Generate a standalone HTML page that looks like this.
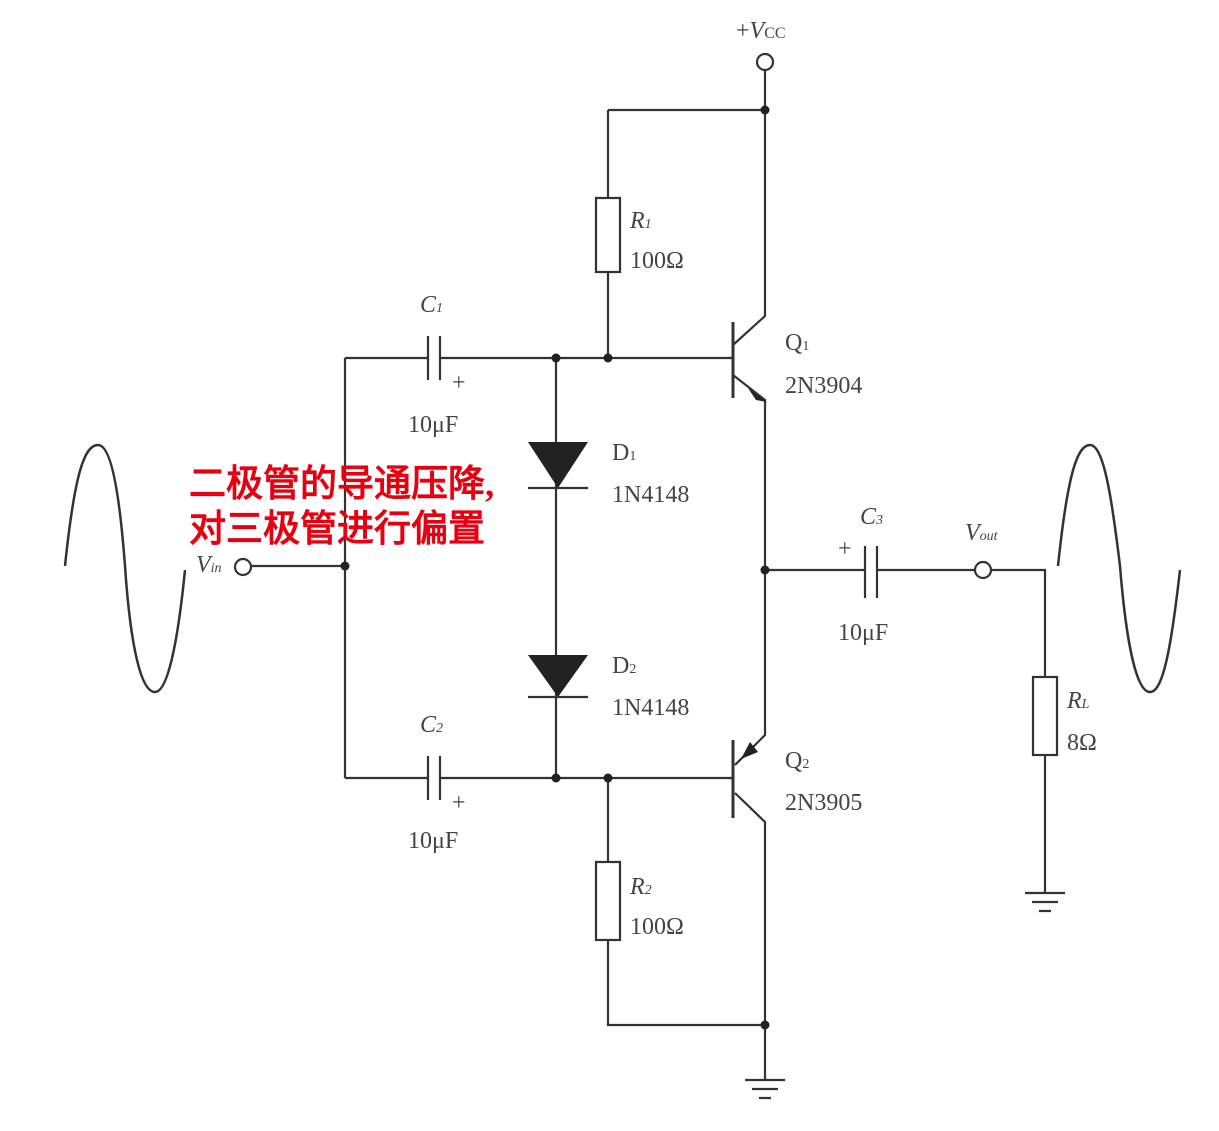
<!DOCTYPE html>
<html><head><meta charset="utf-8"><style>
body{margin:0;background:#fff}
svg text{font-family:"Liberation Serif",serif;fill:#444}
</style></head><body>
<svg width="1219" height="1126" viewBox="0 0 1219 1126" xmlns="http://www.w3.org/2000/svg">
<g stroke="#333" stroke-width="2.2" fill="none">
<circle cx="765" cy="62" r="8"/>
<path d="M765 70V316L733 345"/>
<path d="M608 110H765"/>
<path d="M608 110V198M608 272V358"/>
<rect x="596" y="198" width="24" height="74"/>
<path d="M345 358H428M440 358H733"/>
<path d="M428 336V380M440 336V380"/>
<path d="M733 322V398" stroke-width="3"/>
<path d="M733 375L765 400V735L735 765"/>
<path d="M345 358V778"/>
<circle cx="243" cy="567" r="8"/>
<path d="M251 566H345"/>
<path d="M556 358V778"/>
<path d="M528 488H588M528 697H588"/>
<path d="M345 778H428M440 778H733"/>
<path d="M428 756V800M440 756V800"/>
<path d="M733 740V818" stroke-width="3"/>
<path d="M735 793L765 822V1080"/>
<path d="M608 778V862M608 940V1025H765"/>
<rect x="596" y="862" width="24" height="78"/>
<path d="M765 570H865M877 570H975"/>
<path d="M865 546V598M877 546V598"/>
<circle cx="983" cy="570" r="8"/>
<path d="M991 570H1045V677M1045 755V893"/>
<rect x="1033" y="677" width="24" height="78"/>
<path d="M1025 893H1065M1032 902H1058M1039 911H1051"/>
<path d="M745 1080H785M752 1089H778M759 1098H771"/>
<path d="M65 566C75 470 85 445 98 445C112 445 120 500 125 566C130 640 140 692 155 692C168 692 178 640 185 570" stroke-width="2.5"/>
<path d="M1058 566C1068 470 1078 445 1090 445C1104 445 1112 500 1120 566C1126 640 1136 692 1150 692C1164 692 1172 640 1180 570" stroke-width="2.5"/>
</g>
<g fill="#222">
<circle cx="765" cy="110" r="4.5"/><circle cx="556" cy="358" r="4.5"/><circle cx="608" cy="358" r="4.5"/>
<circle cx="345" cy="566" r="4.5"/><circle cx="765" cy="570" r="4.5"/>
<circle cx="556" cy="778" r="4.5"/><circle cx="608" cy="778" r="4.5"/><circle cx="765" cy="1025" r="4.5"/>
<path d="M528 442H588L558 488Z"/><path d="M528 655H588L558 697Z"/>
<path d="M767 402L748 388L756 400Z"/>
<path d="M741 759L750 742L758 752Z"/>
</g>
<g font-size="24">
<text x="736" y="38">+<tspan font-style="italic">V</tspan><tspan font-size="16">CC</tspan></text>
<text x="630" y="228" font-style="italic">R<tspan font-size="14">1</tspan></text>
<text x="630" y="268">100Ω</text>
<text x="420" y="312" font-style="italic">C<tspan font-size="14">1</tspan></text>
<text x="452" y="390">+</text>
<text x="408" y="432">10μF</text>
<text x="785" y="350">Q<tspan font-size="14">1</tspan></text>
<text x="785" y="393">2N3904</text>
<text x="612" y="460">D<tspan font-size="14">1</tspan></text>
<text x="612" y="502">1N4148</text>
<text x="612" y="673">D<tspan font-size="14">2</tspan></text>
<text x="612" y="715">1N4148</text>
<text x="196" y="572" font-style="italic">V<tspan font-size="14">in</tspan></text>
<text x="860" y="524" font-style="italic">C<tspan font-size="14">3</tspan></text>
<text x="838" y="556">+</text>
<text x="838" y="640">10μF</text>
<text x="965" y="540" font-style="italic">V<tspan font-size="14">out</tspan></text>
<text x="1067" y="708" font-style="italic">R<tspan font-size="14">L</tspan></text>
<text x="1067" y="750">8Ω</text>
<text x="420" y="732" font-style="italic">C<tspan font-size="14">2</tspan></text>
<text x="452" y="810">+</text>
<text x="408" y="848">10μF</text>
<text x="785" y="768">Q<tspan font-size="14">2</tspan></text>
<text x="785" y="810">2N3905</text>
<text x="630" y="894" font-style="italic">R<tspan font-size="14">2</tspan></text>
<text x="630" y="934">100Ω</text>
</g>
<g font-family="'Liberation Sans','Noto Sans CJK SC',sans-serif" font-size="37" font-weight="bold">
<text x="189" y="496" style="fill:#e60012">二极管的导通压降,</text>
<text x="189" y="541" style="fill:#e60012">对三极管进行偏置</text>
</g>
</svg>
</body></html>
